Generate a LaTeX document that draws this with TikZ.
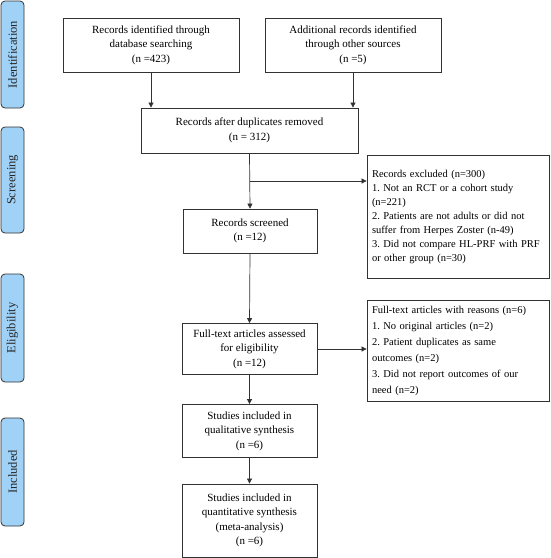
\documentclass[tikz,border=0pt]{standalone}
\usepackage{fontspec}
\setmainfont{Liberation Serif}
\usetikzlibrary{positioning, shapes, arrows.meta}
\definecolor{PhaseBlue}{RGB}{160, 210, 248}
\definecolor{EdgeGray}{RGB}{50, 50, 50}
\frenchspacing

\tikzset{
  box/.style={draw=EdgeGray, line width=0.8pt, align=center, inner sep=2pt,
    font=\fontsize{11}{14.5}\selectfont},
  listbox/.style={draw=EdgeGray, line width=0.8pt, align=left, inner xsep=5pt, inner ysep=6pt,
    font=\fontsize{10.5}{14}\selectfont, text width=172pt},
  phase/.style={draw=EdgeGray, fill=PhaseBlue, line width=0.8pt, rounded corners=4pt,
    rotate=90, minimum height=23pt, inner sep=0pt, text=black!85,
    font=\fontsize{12.5}{13}\selectfont},
  flow/.style={-{Triangle[length=5pt,width=5pt]}, line width=0.7pt, draw=EdgeGray}
}

\begin{document}
\begin{tikzpicture}[x=1pt, y=-1pt]
    \useasboundingbox (0,0) rectangle (550,558);

    % Phase labels
    \node[phase, minimum width=107pt] (pid) at (12.5,54.5) {Identification};
    \node[phase, minimum width=106pt] (pscr) at (12.5,180) {Screening};
    \node[phase, minimum width=108pt] (pelg) at (12.5,328) {Eligibility};
    \node[phase, minimum width=108pt] (pinc) at (12.5,472) {Included};

    % Boxes
    \node[box, minimum width=176pt, minimum height=54pt] (ident1) at (151,45)
      {Records identified through\\database searching\\(n =423)};
    \node[box, minimum width=176pt, minimum height=54pt] (ident2) at (353,45)
      {Additional records identified\\through other sources\\(n =5)};
    \node[box, minimum width=217pt, minimum height=45pt] (dupl) at (249.5,130.5)
      {Records after duplicates removed\\(n = 312)};
    \node[box, minimum width=134pt, minimum height=44pt] (screen) at (250,231)
      {Records screened\\(n =12)};
    \node[box, minimum width=135pt, minimum height=51pt] (full) at (249.5,349)
      {Full-text articles assessed\\for eligibility\\(n =12)};
    \node[box, minimum width=135pt, minimum height=53pt] (qual) at (249.5,431)
      {Studies included in\\qualitative synthesis\\(n =6)};
    \node[box, minimum width=135pt, minimum height=73pt] (quant) at (249.5,520.5)
      {Studies included in\\quantitative synthesis\\(meta-analysis)\\(n =6)};

    % Exclusion boxes
    \node[listbox, minimum height=123pt] (excl1) at (458,216.5)
      {Records excluded (n=300)\\1. Not an RCT or a cohort study\\(n=221)\\2. Patients are not adults or did not\\suffer from Herpes Zoster (n-49)\\3. Did not compare HL-PRF with PRF\\or other group (n=30)};
    \node[listbox, minimum height=98pt, font=\fontsize{10.5}{16}\selectfont] (excl2) at (458,351)
      {Full-text articles with reasons (n=6)\\1. No original articles (n=2)\\2. Patient duplicates as same\\outcomes (n=2)\\3. Did not report outcomes of our\\need (n=2)};

    % Connectors
    \coordinate (brc) at (250,181);
    \draw[flow] (ident1.south) -- (ident1.south |- dupl.north);
    \draw[flow] (ident2.south) -- (ident2.south |- dupl.north);
    \draw[flow] (dupl.south) -- (screen.north);
    \draw[flow] (brc) -- (brc -| excl1.west);
    \draw[flow] (screen.south) -- (full.north);
    \draw[flow] (full.east) -- (full.east -| excl2.west);
    \draw[flow] (full.south) -- (qual.north);
    \draw[flow] (qual.south) -- (quant.north);
\end{tikzpicture}
\end{document}
